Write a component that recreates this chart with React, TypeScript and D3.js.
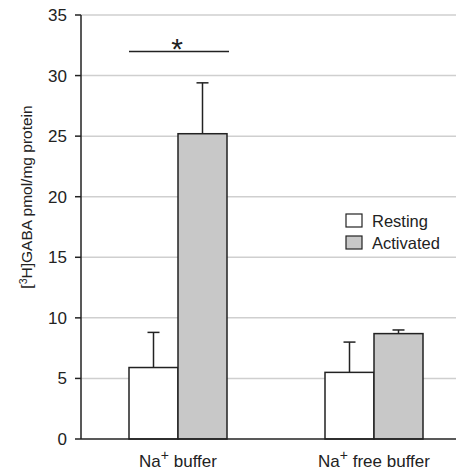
import React from "react";
import * as d3 from "d3";

const categories = ["Na+ buffer", "Na+ free buffer"];
const series = ["Resting", "Activated"];
const restingValues = [5.9, 5.5];
const restingErrors = [2.9, 2.5];
const activatedValues = [25.2, 8.7];
const activatedErrors = [4.2, 0.3];
const yTicks = [0, 5, 10, 15, 20, 25, 30, 35];

const W = 456, H = 470;
const x0 = 81, x1 = 456;
const yTop = 15, yBottom = 439;
const colors = ["#ffffff", "#c8c8c8"];

export default function App() {
  const y = d3.scaleLinear().domain([0, 35]).range([yBottom, yTop]);
  const xCat = d3.scaleBand().domain(categories).range([80, 472]).paddingInner(0).paddingOuter(0);
  const xSub = d3.scaleBand().domain(series).range([0, 98]);
  const groupOffset = (c: string) => (xCat(c) as number) + (xCat.bandwidth() - 98) / 2;
  const vals = [restingValues, activatedValues];
  const errs = [restingErrors, activatedErrors];
  const font = "'Liberation Sans', Arial, sans-serif";

  return (
    <svg width={W} height={H} style={{ position: "absolute", left: 0, top: 0, fontFamily: font }}>
      {yTicks.filter((t) => t > 0).map((t) => (
        <line key={t} x1={x0} x2={x1} y1={y(t)} y2={y(t)} stroke="#cfcfcf" strokeWidth={1.5} />
      ))}
      {yTicks.map((t) => (
        <g key={"t" + t}>
          <line x1={x0 - 6} x2={x0} y1={y(t)} y2={y(t)} stroke="#222" strokeWidth={1.5} />
          <text x={67} y={y(t)} dy="0.35em" textAnchor="end" fontSize={17} fill="#222">{t}</text>
        </g>
      ))}
      {categories.map((c, ci) =>
        series.map((s, si) => {
          const bx = groupOffset(c) + (xSub(s) as number);
          const bw = xSub.bandwidth();
          const v = vals[si][ci];
          const e = errs[si][ci];
          const cx = bx + bw / 2;
          return (
            <g key={c + s}>
              <line x1={cx} x2={cx} y1={y(v)} y2={y(v + e)} stroke="#222" strokeWidth={1.5} />
              <line x1={cx - 6} x2={cx + 6} y1={y(v + e)} y2={y(v + e)} stroke="#222" strokeWidth={1.5} />
              <rect x={bx} y={y(v)} width={bw} height={y(0) - y(v)} fill={colors[si]} stroke="#222" strokeWidth={1.5} />
            </g>
          );
        })
      )}
      <line x1={x0} x2={x0} y1={yTop} y2={yBottom} stroke="#222" strokeWidth={1.5} />
      <line x1={x0} x2={x1} y1={yBottom} y2={yBottom} stroke="#222" strokeWidth={1.5} />
      {(() => {
        const c = categories[0];
        const gx = groupOffset(c);
        return (
          <g>
            <line x1={gx} x2={gx + 100} y1={51.5} y2={51.5} stroke="#222" strokeWidth={1.5} />
            <text x={gx + 48} y={59} textAnchor="middle" fontSize={30} fill="#222">*</text>
          </g>
        );
      })()}
      {categories.map((c) => {
        const cx = groupOffset(c) + 49;
        const [a, b] = c.split("+");
        return (
          <text key={c} x={cx} y={467} textAnchor="middle" fontSize={17} fill="#222">
            {a}
            <tspan dy={-7} fontSize={14}>+</tspan>
            <tspan dy={7}>{b}</tspan>
          </text>
        );
      })}
      <text transform={`translate(32,197) rotate(-90)`} textAnchor="middle" fontSize={15.5} fill="#222">
        [<tspan dy={-5} fontSize={10.5}>3</tspan><tspan dy={5}>H]GABA pmol/mg protein</tspan>
      </text>
      {series.map((s, i) => (
        <g key={s} transform={`translate(346,${214 + i * 22})`}>
          <rect x={0} y={0} width={16} height={13} fill={colors[i]} stroke="#222" strokeWidth={1.2} />
          <text x={26} y={13} fontSize={16.5} fill="#222">{s}</text>
        </g>
      ))}
    </svg>
  );
}
